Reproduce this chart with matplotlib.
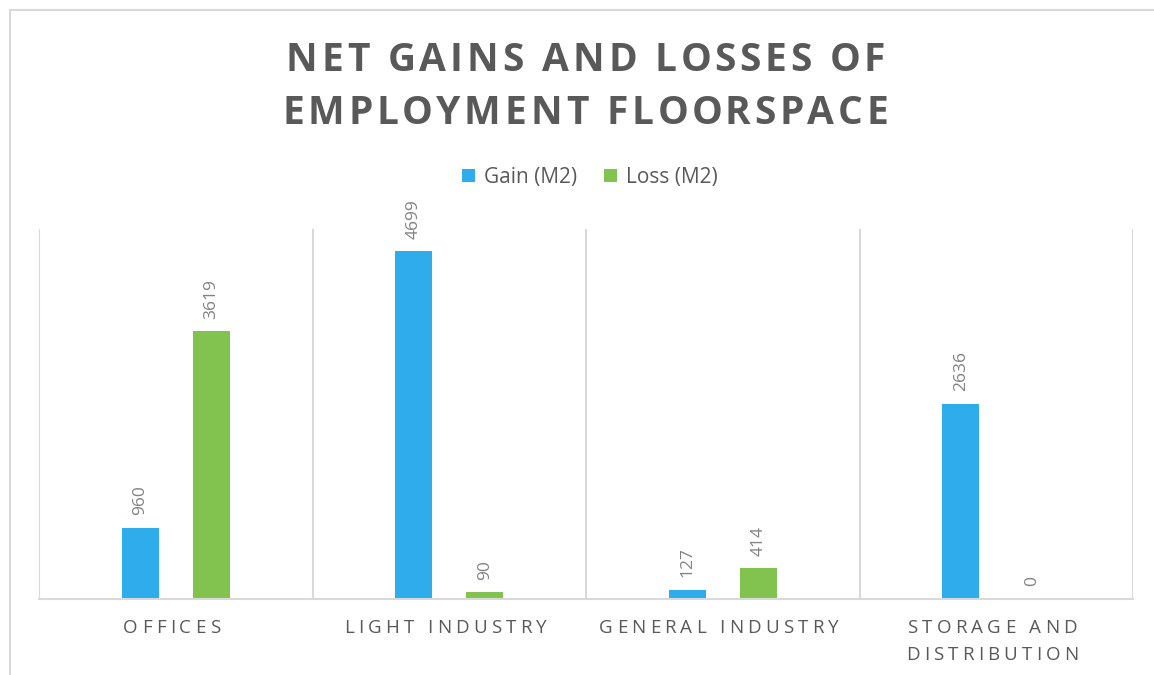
import matplotlib
matplotlib.use("Agg")
import matplotlib.pyplot as plt
from matplotlib.font_manager import FontProperties
from matplotlib.patches import Rectangle, Patch

# Data
categories = ["OFFICES", "LIGHT INDUSTRY", "GENERAL INDUSTRY", "STORAGE AND\nDISTRIBUTION"]
gain_m2 = [960, 4699, 127, 2636]
loss_m2 = [3619, 90, 414, 0]
series_names = ["Gain (M2)", "Loss (M2)"]
title_lines = ["NET GAINS AND LOSSES OF", "EMPLOYMENT FLOORSPACE"]

BLUE = "#2FACEB"
GREEN = "#82C34F"
TEXT = "#595959"
LABEL = "#828282"
GRID = "#D9D9D9"
FAMILY = "Open Sans"

W, H = 1154, 675
fig = plt.figure(figsize=(W / 100, H / 100), dpi=100)
fig.patch.set_facecolor("white")

# Outer chart frame
fig.patches.append(Rectangle((10 / W, -0.05), 1.1, (H - 10) / H + 0.05,
                             transform=fig.transFigure, fill=False,
                             edgecolor=GRID, linewidth=1.5))

ax = fig.add_axes([39 / W, 76 / H, (1133 - 39) / W, (599 - 229) / H])
ax.set_xlim(-0.5, len(categories) - 0.5)
ax.set_ylim(0, 5000)
for s in ["top", "left", "right"]:
    ax.spines[s].set_visible(False)
ax.spines["bottom"].set_color(GRID)
ax.spines["bottom"].set_linewidth(1.5)
ax.set_yticks([])
ax.set_xticks([])
for b in range(len(categories) + 1):
    ax.axvline(b - 0.5, color=GRID, linewidth=1.5, zorder=0)

x = list(range(len(categories)))
off, bw = 0.13, 0.135
gbars = ax.bar([i - off for i in x], gain_m2, width=bw, color=BLUE, zorder=2)
lbars = ax.bar([i + off for i in x], loss_m2, width=bw, color=GREEN, zorder=2)

lab_prop = FontProperties(family=FAMILY, size=12.5)
for bars, vals in ((gbars, gain_m2), (lbars, loss_m2)):
    for r, v in zip(bars, vals):
        ax.annotate(f"{v}", (r.get_x() + r.get_width() / 2, v),
                    xytext=(0, 9), textcoords="offset points",
                    rotation=90, ha="center", va="bottom",
                    fontproperties=lab_prop, color=LABEL)

renderer = fig.canvas.get_renderer()


def tracked_text(xc, y, s, prop, tracking, color):
    """Draw s centred at xc (pixels) on baseline y (pixels from bottom) with extra letter spacing."""
    def width(t):
        return renderer.get_text_width_height_descent(t, prop, ismath=False)[0]
    base = width("XX")
    adv = [width("X" + c + "X") - base for c in s]
    total = sum(adv) + tracking * (len(s) - 1)
    px = xc - total / 2
    for c, a in zip(s, adv):
        if c != " ":
            fig.text(px / W, y / H, c, fontproperties=prop, color=color,
                     ha="left", va="baseline")
        px += a + tracking


# Title
title_prop = FontProperties(family=FAMILY, size=28, weight="bold")
tracked_text(585, H - 71, title_lines[0], title_prop, 4.0, TEXT)
tracked_text(585, H - 124, title_lines[1], title_prop, 4.0, TEXT)

# Category labels
cat_prop = FontProperties(family=FAMILY, size=13.5)
plot_left, plot_w = 39, 1133 - 39
for i, cat in enumerate(categories):
    xc = plot_left + (i + 0.5) * plot_w / len(categories) - 4
    for j, line in enumerate(cat.split("\n")):
        tracked_text(xc, H - 633 - 27 * j, line, cat_prop, 4.2, TEXT)

# Legend
handles = [Patch(facecolor=BLUE), Patch(facecolor=GREEN)]
fig.legend(handles, series_names, loc="center", ncol=2,
           bbox_to_anchor=(590 / W, 1 - 177 / H), frameon=False,
           handlelength=0.6, handleheight=0.6, handletextpad=0.45,
           columnspacing=1.3, prop=FontProperties(family=FAMILY, size=15),
           labelcolor=TEXT)

fig.savefig("out.png", dpi=100, facecolor="white")
